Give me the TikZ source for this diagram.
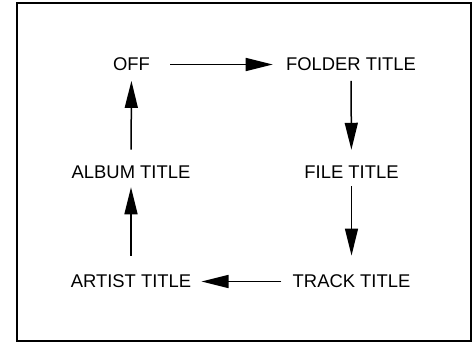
\documentclass[tikz,border=0pt]{standalone}
\usepackage{fontspec}
\setmainfont{Liberation Sans}
\usetikzlibrary{arrows.meta}
\tikzset{
  menu/.style={inner sep=0pt, font=\fontsize{9.2pt}{11pt}\selectfont},
  cyc/.style={-{Triangle[length=13.5pt, width=6.5pt]}, line width=0.75pt}
}

\begin{document}
\begin{tikzpicture}[x=0.5pt, y=-0.5pt]
        \useasboundingbox (0,0) rectangle (475,342);
        % Frame
        \draw[line width=0.9pt] (17,3) rectangle (471,341);

        % Menu items
        \node[menu] (off) at (131.5, 64.5) {OFF};
        \node[menu] (folder) at (351, 64.5) {FOLDER TITLE};
        \node[menu] (file) at (351.5, 172.5) {FILE TITLE};
        \node[menu] (track) at (351.5, 281.5) {TRACK TITLE};
        \node[menu] (artist) at (131, 281.5) {ARTIST TITLE};
        \node[menu] (album) at (131, 172.5) {ALBUM TITLE};

        % Cycle arrows
        \draw[cyc, shorten <=10pt, shorten >=6.5pt] (off) -- (folder);
        \draw[cyc, shorten <=4.75pt, shorten >=8pt] (folder) -- (file);
        \draw[cyc, shorten <=3.5pt, shorten >=9.5pt] (file) -- (track);
        \draw[cyc, shorten <=5.5pt, shorten >=5pt] (track) -- (artist);
        \draw[cyc, shorten <=9.5pt, shorten >=4pt] (artist) -- (album);
        \draw[cyc, shorten <=8pt, shorten >=4.75pt] (album) -- (off);
    \end{tikzpicture}
\end{document}
